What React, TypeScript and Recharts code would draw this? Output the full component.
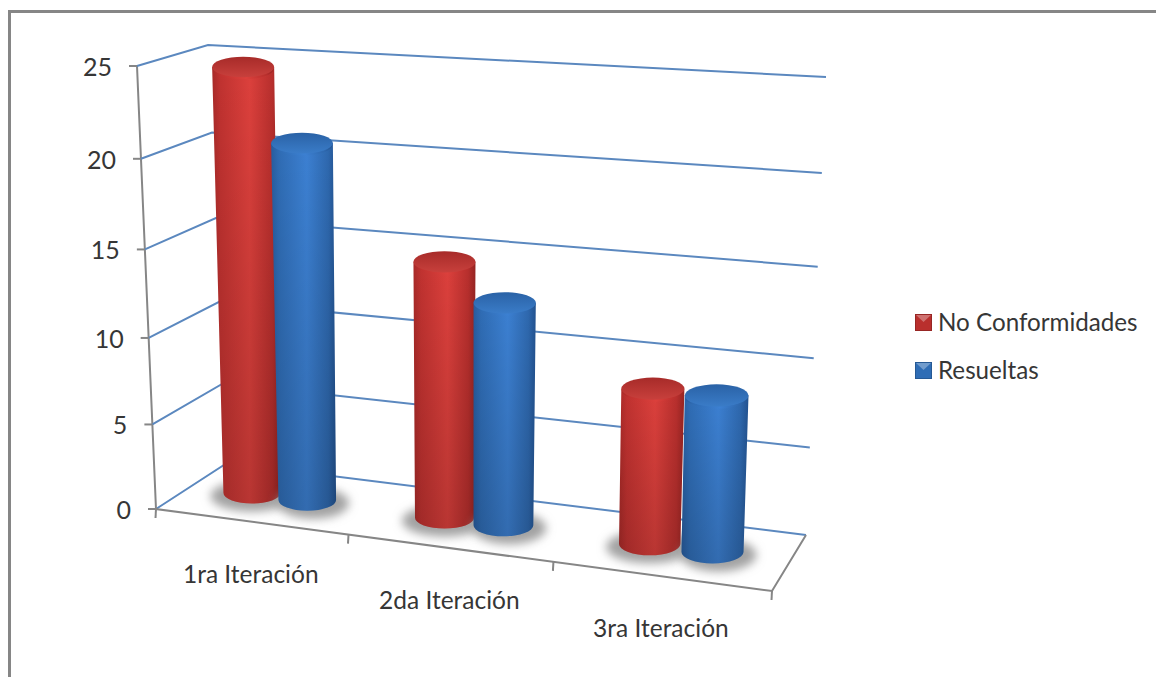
import { Bar, BarChart, CartesianGrid, Legend, XAxis, YAxis } from 'recharts'

const categories = ['1ra Iteración', '2da Iteración', '3ra Iteración']
const noConformidades = [25, 15, 9]
const resueltas = [21, 13, 9]
const valueTicks = [0, 5, 10, 15, 20, 25]

const tableData = categories.map((name, i) => ({
  name,
  noConformidades: noConformidades[i],
  resueltas: resueltas[i],
}))

// flat plot rectangle handed to recharts; everything below bends it into the 3D box
const PLOT = { left: 187, right: 790, top: 65, bottom: 510 }
const PLOT_W = PLOT.right - PLOT.left
const PLOT_H = PLOT.bottom - PLOT.top

type Pt = [number, number]

const FRONT_LEFT = { base: [156, 509] as Pt, top: [137, 66] as Pt }
const BACK_LEFT = { base: [227, 463] as Pt, top: [208, 45] as Pt }
const BACK_RIGHT = { base: [806, 535] as Pt, top: [826, 77] as Pt }
const FRONT_RIGHT_BASE: Pt = [772, 591]

const AXIS_GRAY = '#868686'
const WALL_BLUE = '#5b88bf'
const TEXT = '#363636'
const FONT = 'Lato, sans-serif'

// perspective foreshortening along one box edge
const bend = (t: number, c: number) => t / (t + (1 - t) * c)
const heightFrac = (t: number) => bend(t, 1.06)
const widthFrac = (s: number) => bend(s, 1.1)

const mix = (a: Pt, b: Pt, f: number): Pt => [a[0] + (b[0] - a[0]) * f, a[1] + (b[1] - a[1]) * f]
const toPoints = (pts: Pt[]) => pts.map((p) => p.join(',')).join(' ')

function WallLine(props: any) {
  const t = (PLOT.bottom - props.y1) / PLOT_H
  const p = heightFrac(t)
  const front = mix(FRONT_LEFT.base, FRONT_LEFT.top, p)
  const back = mix(BACK_LEFT.base, BACK_LEFT.top, p)
  const right = mix(BACK_RIGHT.base, BACK_RIGHT.top, p)
  return (
    <g key={props.key}>
      <polyline points={toPoints([front, back, right])} fill="none" stroke={WALL_BLUE} strokeWidth={2} />
      {Math.abs(t) < 0.001 && (
        <polyline
          points={toPoints([FRONT_LEFT.top, FRONT_LEFT.base, FRONT_RIGHT_BASE, BACK_RIGHT.base])}
          fill="none"
          stroke={AXIS_GRAY}
          strokeWidth={2}
        />
      )}
    </g>
  )
}

function ValueTick(props: any) {
  const t = (PLOT.bottom - props.y) / PLOT_H
  const [x, y] = mix(FRONT_LEFT.base, FRONT_LEFT.top, heightFrac(t))
  return (
    <g>
      <line x1={x - 8} y1={y} x2={x} y2={y} stroke={AXIS_GRAY} strokeWidth={2} />
      <text x={x - 25} y={y + 10} textAnchor="end" fontFamily={FONT} fontSize={25} fill={TEXT}>
        {props.payload.value}
      </text>
    </g>
  )
}

const frontEdge = (s: number) => mix(FRONT_LEFT.base, FRONT_RIGHT_BASE, widthFrac(s))

function CategoryTick(props: any) {
  const s = (props.x - PLOT.left) / PLOT_W
  const halfBand = 1 / categories.length / 2
  const [lx, ly] = frontEdge(s)
  const marks = props.index === 0 ? [s - halfBand, s + halfBand] : [s + halfBand]
  return (
    <g>
      {marks.map((m) => {
        const [mx, my] = frontEdge(m)
        return <line key={m} x1={mx} y1={my} x2={mx - 0.5} y2={my + 9} stroke={AXIS_GRAY} strokeWidth={2} />
      })}
      <text x={lx} y={ly + 61} textAnchor="middle" fontFamily={FONT} fontSize={24.5} fill={TEXT}>
        {props.payload.value}
      </text>
    </g>
  )
}

function Column(props: any) {
  const { x, width, height, tone, shadowShift } = props
  const s = (x + width / 2 - PLOT.left) / PLOT_W
  const p = heightFrac(height / PLOT_H)

  // the floor line the columns stand on, half way back in the box
  const bx = PLOT.left + PLOT_W * widthFrac(s)
  const by = 493 + (bx - 252) * 0.128

  // verticals fan out and grow towards the right of the box
  const fullH = 426 + (bx - 252) * 0.055
  const lean = (bx - 448) * 0.045
  const tx = bx + lean * p
  const ty = by - fullH * p

  const floorScale = 0.966 + (bx - 252) * 0.000185
  const rb = (width * floorScale) / 2
  const rt = (width * (floorScale + 0.085 * p)) / 2
  const rby = rb * 0.37
  const rty = rt * (0.36 - 0.03 * p)

  const side = `M${tx - rt},${ty} L${bx - rb},${by} A${rb},${rby} 0 0 0 ${bx + rb},${by} L${tx + rt},${ty} Z`
  return (
    <g>
      <ellipse
        cx={bx + shadowShift}
        cy={by + 3}
        rx={rb + 13 - Math.abs(shadowShift)}
        ry={rby + 5}
        fill="#a2a2a2"
        filter="url(#floorShadow)"
      />
      <path d={side} fill={`url(#${tone}Body)`} />
      <path d={side} fill="url(#bodyFade)" />
      <ellipse cx={tx} cy={ty + 2} rx={rt - 0.5} ry={rty} fill={`url(#${tone}Body)`} />
      <ellipse cx={tx} cy={ty} rx={rt} ry={rty} fill={`url(#${tone}Cap)`} />
    </g>
  )
}

function LegendBox(props: any) {
  return (
    <div style={{ fontFamily: FONT, fontSize: 24.2, color: TEXT, lineHeight: '48px' }}>
      {props.payload.map((item: any) => (
        <div key={item.value} style={{ display: 'flex', alignItems: 'center', whiteSpace: 'nowrap' }}>
          <svg width={17} height={17} style={{ marginRight: 6 }}>
            <rect width={17} height={17} fill={item.color} />
            <polygon points="1,1 16,1 8.5,8" fill="#fff" fillOpacity={0.32} />
            <rect x={0.5} y={0.5} width={16} height={16} fill="none" stroke="#000" strokeOpacity={0.18} />
          </svg>
          {item.value}
        </div>
      ))}
    </div>
  )
}

export default function App() {
  return (
    <div style={{ position: 'absolute', left: 0, top: 0, width: 1156, height: 677, background: '#fff', overflow: 'hidden' }}>
      <div
        style={{
          position: 'absolute',
          left: 8,
          top: 10,
          right: 0,
          bottom: 0,
          borderLeft: `3px solid ${AXIS_GRAY}`,
          borderTop: `3px solid ${AXIS_GRAY}`,
        }}
      />
      <BarChart
        width={1156}
        height={677}
        data={tableData}
        barCategoryGap="20.5%"
        barGap={0}
        margin={{ left: PLOT.left - 1, right: 1156 - PLOT.right, top: PLOT.top, bottom: 677 - PLOT.bottom - 1 }}
      >
        <defs>
          <linearGradient id="redBody" x1="0" y1="0" x2="1" y2="0">
            <stop offset="0" stopColor="#a82a28" />
            <stop offset="0.12" stopColor="#c03230" />
            <stop offset="0.55" stopColor="#dc403c" />
            <stop offset="0.88" stopColor="#b82f2d" />
            <stop offset="1" stopColor="#962422" />
          </linearGradient>
          <linearGradient id="blueBody" x1="0" y1="0" x2="1" y2="0">
            <stop offset="0" stopColor="#285c9e" />
            <stop offset="0.12" stopColor="#2f6cb4" />
            <stop offset="0.55" stopColor="#3c80d2" />
            <stop offset="0.88" stopColor="#2e68ae" />
            <stop offset="1" stopColor="#225290" />
          </linearGradient>
          <linearGradient id="redCap" x1="0" y1="0" x2="0" y2="1">
            <stop offset="0" stopColor="#a72b29" />
            <stop offset="1" stopColor="#c8403c" />
          </linearGradient>
          <linearGradient id="blueCap" x1="0" y1="0" x2="0" y2="1">
            <stop offset="0" stopColor="#2a62a6" />
            <stop offset="1" stopColor="#3a7cc8" />
          </linearGradient>
          <linearGradient id="bodyFade" x1="0" y1="0" x2="0" y2="1">
            <stop offset="0" stopColor="#000" stopOpacity={0} />
            <stop offset="1" stopColor="#000" stopOpacity={0.16} />
          </linearGradient>
          <filter id="floorShadow" x="-30%" y="-60%" width="160%" height="220%">
            <feGaussianBlur stdDeviation="5" />
          </filter>
        </defs>
        <CartesianGrid horizontal={WallLine} vertical={false} fill="none" />
        <XAxis dataKey="name" height={1} interval={0} axisLine={false} tickLine={false} tick={CategoryTick} />
        <YAxis
          width={1}
          domain={[0, 25]}
          ticks={valueTicks}
          interval={0}
          axisLine={false}
          tickLine={false}
          tick={ValueTick}
        />
        <Legend
          layout="vertical"
          align="center"
          verticalAlign="middle"
          wrapperStyle={{ left: 915, top: 298, width: 235 }}
          content={LegendBox}
        />
        <Bar
          dataKey="noConformidades"
          name="No Conformidades"
          fill="#b92f2d"
          isAnimationActive={false}
          shape={(props: any) => <Column {...props} tone="red" shadowShift={0} />}
        />
        <Bar
          dataKey="resueltas"
          name="Resueltas"
          fill="#2f6db5"
          isAnimationActive={false}
          shape={(props: any) => <Column {...props} tone="blue" shadowShift={6} />}
        />
      </BarChart>
    </div>
  )
}
